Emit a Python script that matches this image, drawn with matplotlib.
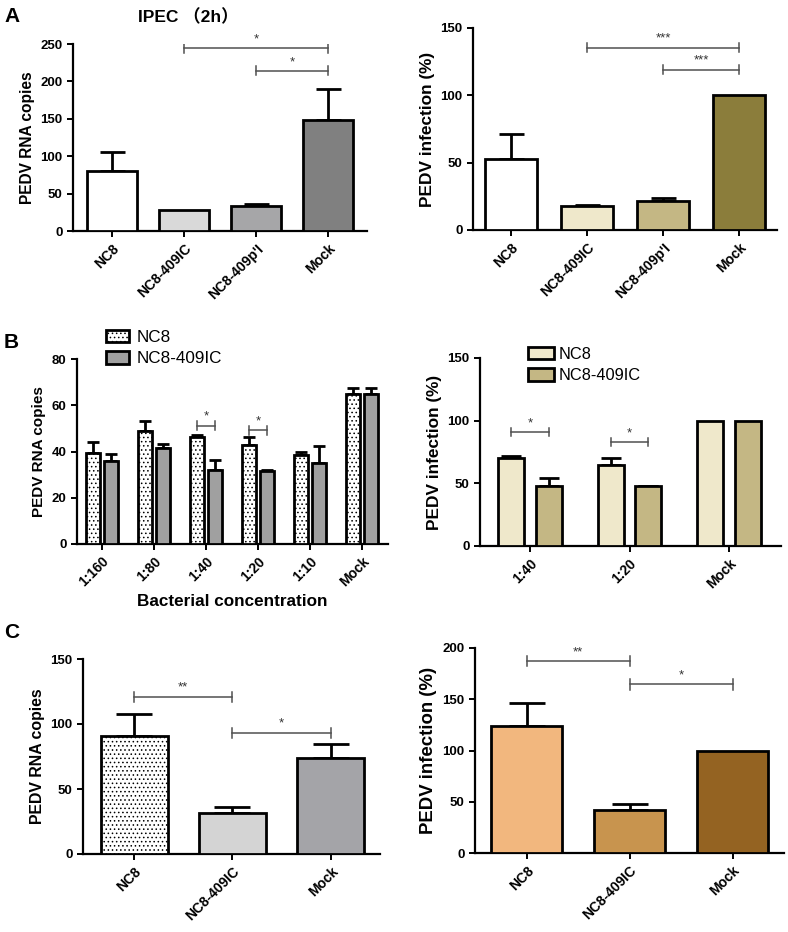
import matplotlib
matplotlib.use("Agg")
import matplotlib.pyplot as plt
from matplotlib.patches import Patch
import numpy as np

plt.rcParams['font.family'] = ['Liberation Sans', 'Noto Sans CJK SC', 'DejaVu Sans']
plt.rcParams['hatch.linewidth'] = 0.6

# ---- data ----
a_cats = ['NC8', 'NC8-409IC', "NC8-409p'I", 'Mock']
a_rna = [80, 28, 33, 148]
a_rna_err = [26, 0, 3, 42]
a_inf = [53, 17.5, 21.5, 100]
a_inf_err = [18, 1, 2.5, 0]

b_cats = ['1:160', '1:80', '1:40', '1:20', '1:10', 'Mock']
b_nc8 = [39.3, 49, 46.3, 42.6, 38.3, 64.8]
b_nc8_err = [5, 4, 1, 3.7, 1.7, 2.6]
b_409 = [36, 41.5, 32.1, 31.4, 35, 64.8]
b_409_err = [2.9, 1.9, 4.1, 0.4, 7.2, 2.6]

b2_cats = ['1:40', '1:20', 'Mock']
b2_nc8 = [70.5, 64.9, 100]
b2_nc8_err = [1.3, 5.3, 0]
b2_409 = [48.1, 47.6, 100]
b2_409_err = [6.2, 0.5, 0]

c_cats = ['NC8', 'NC8-409IC', 'Mock']
c_rna = [91, 31.3, 73.8]
c_rna_err = [16.7, 4.6, 10.8]
c_inf = [123.6, 42.3, 100]
c_inf_err = [22.4, 5.7, 0]

W, H = 788, 932
fig = plt.figure(figsize=(W / 100, H / 100), dpi=100)


def make_ax(x0, x1, ytop, ybot):
    ax = fig.add_axes([x0 / W, 1 - ybot / H, (x1 - x0) / W, (ybot - ytop) / H])
    for s in ['top', 'right']:
        ax.spines[s].set_visible(False)
    for s in ['left', 'bottom']:
        ax.spines[s].set_linewidth(1.6)
    ax.tick_params(axis='both', width=1.4, length=4, direction='out')
    return ax


def style(ax, ymax, ystep, cats, pos, ylabel, xlim, ylsize):
    ax.set_ylim(0, ymax)
    ax.set_yticks(np.arange(0, ymax + 1, ystep))
    ax.set_xlim(*xlim)
    ax.set_xticks(pos)
    ax.set_xticklabels(cats, rotation=45, ha='right', rotation_mode='anchor',
                       fontsize=10, fontweight='bold')
    for t in ax.get_yticklabels():
        t.set_fontweight('bold')
        t.set_fontsize(9.5)
    ax.set_ylabel(ylabel, fontsize=ylsize, fontweight='bold')


def bars(ax, pos, vals, errs, colors, width, cap, hatch=None):
    for p, v, e, c in zip(pos, vals, errs, colors):
        ax.bar(p, v, width, color=c, edgecolor='black', linewidth=2.0,
               hatch=hatch, zorder=3)
        if e > 0:
            ax.errorbar(p, v, yerr=[[0], [e]], fmt='none', ecolor='black',
                        elinewidth=2.0, capsize=cap, capthick=2.0, zorder=2)


def sig(ax, x1, x2, y, text, d):
    ax.plot([x1, x2], [y, y], color='#505050', lw=1.1, zorder=4)
    ax.plot([x1, x1], [y - d, y + d], color='#505050', lw=1.1, zorder=4)
    ax.plot([x2, x2], [y - d, y + d], color='#505050', lw=1.1, zorder=4)
    ax.text((x1 + x2) / 2, y + d * 0.6, text, ha='center', va='bottom',
            fontsize=9.5, color='#333333')


# ---- A left ----
ax = make_ax(73, 367, 44, 231)
pos = np.arange(len(a_cats))
bars(ax, pos, a_rna, a_rna_err, ['white', '#d9d9d9', '#a6a6a8', '#808080'], 0.7, 9)
style(ax, 250, 50, a_cats, pos, 'PEDV RNA copies', (-0.54, 3.54), 11.2)
sig(ax, 1, 3, 244, '*', 6)
sig(ax, 2, 3, 214, '*', 6)

# ---- A right ----
ax = make_ax(473, 777, 28, 230)
bars(ax, pos, a_inf, a_inf_err, ['white', '#efe8cb', '#c4b784', '#8b7d3b'], 0.68, 9)
style(ax, 150, 50, a_cats, pos, 'PEDV infection (%)', (-0.5, 3.5), 12.4)
sig(ax, 1, 3, 135.5, '***', 3.5)
sig(ax, 2, 3, 119, '***', 3.5)

# ---- B left ----
ax = make_ax(77, 388, 359, 544)
pos = np.arange(len(b_cats))
bars(ax, pos - 0.17, b_nc8, b_nc8_err, ['white'] * 6, 0.28, 4.5, hatch='....')
bars(ax, pos + 0.17, b_409, b_409_err, ['#a0a0a0'] * 6, 0.28, 4.5)
style(ax, 80, 20, b_cats, pos, 'PEDV RNA copies', (-0.48, 5.5), 11)
ax.set_xlabel('Bacterial concentration', fontsize=12.3, fontweight='bold', labelpad=3)
sig(ax, 2 - 0.17, 2 + 0.17, 51.2, '*', 2)
sig(ax, 3 - 0.17, 3 + 0.17, 49.1, '*', 2)
h = [Patch(facecolor='white', edgecolor='black', linewidth=2, hatch='....', label='NC8'),
     Patch(facecolor='#a0a0a0', edgecolor='black', linewidth=2, label='NC8-409IC')]
ax.legend(handles=h, loc='upper left', bbox_to_anchor=(99 / W, 1 - 323 / H),
          bbox_transform=fig.transFigure, frameon=False, fontsize=12.3,
          handlelength=1.35, handleheight=0.75, labelspacing=0.35, handletextpad=0.45,
          borderaxespad=0)

# ---- B right ----
ax = make_ax(480, 781, 358, 546)
pos = np.arange(len(b2_cats))
bars(ax, pos - 0.19, b2_nc8, b2_nc8_err, ['#efe8cb'] * 3, 0.26, 7)
bars(ax, pos + 0.19, b2_409, b2_409_err, ['#c4b784'] * 3, 0.26, 7)
style(ax, 150, 50, b2_cats, pos, 'PEDV infection (%)', (-0.5, 2.52), 12.4)
sig(ax, 0 - 0.19, 0 + 0.19, 91, '*', 3.5)
sig(ax, 1 - 0.19, 1 + 0.19, 83, '*', 3.5)
h = [Patch(facecolor='#efe8cb', edgecolor='black', linewidth=2, label='NC8'),
     Patch(facecolor='#c4b784', edgecolor='black', linewidth=2, label='NC8-409IC')]
ax.legend(handles=h, loc='upper left', bbox_to_anchor=(521 / W, 1 - 340 / H),
          bbox_transform=fig.transFigure, frameon=False, fontsize=11.8,
          handlelength=1.6, handleheight=0.8, labelspacing=0.4, handletextpad=0.3,
          borderaxespad=0)

# ---- C left ----
ax = make_ax(83, 380, 659, 854)
pos = np.arange(len(c_cats))
bars(ax, pos[:1], c_rna[:1], c_rna_err[:1], ['white'], 0.68, 13, hatch='....')
bars(ax, pos[1:], c_rna[1:], c_rna_err[1:], ['#d4d4d4', '#a4a4a8'], 0.68, 13)
style(ax, 150, 50, c_cats, pos, 'PEDV RNA copies', (-0.52, 2.5), 11.4)
sig(ax, 0, 1, 121, '**', 4)
sig(ax, 1, 2, 93.3, '*', 4)

# ---- C right ----
ax = make_ax(475, 784, 648, 853)
bars(ax, pos, c_inf, c_inf_err, ['#f2b77e', '#c8944e', '#946322'], 0.68, 13)
style(ax, 200, 50, c_cats, pos, 'PEDV infection (%)', (-0.5, 2.5), 13.4)
sig(ax, 0, 1, 187, '**', 5)
sig(ax, 1, 2, 164.5, '*', 5)

# ---- panel letters and title ----
fig.text(4 / W, 1 - 16 / H, 'A', fontsize=15, fontweight='bold', va='center')
fig.text(4 / W, 1 - 342 / H, 'B', fontsize=15, fontweight='bold', va='center')
fig.text(4 / W, 1 - 632 / H, 'C', fontsize=15, fontweight='bold', va='center')
fig.text(188 / W, 1 - 17 / H, 'IPEC （2h）', fontsize=12.5, fontweight='bold',
         ha='center', va='center')

fig.savefig('out.png', dpi=100)
